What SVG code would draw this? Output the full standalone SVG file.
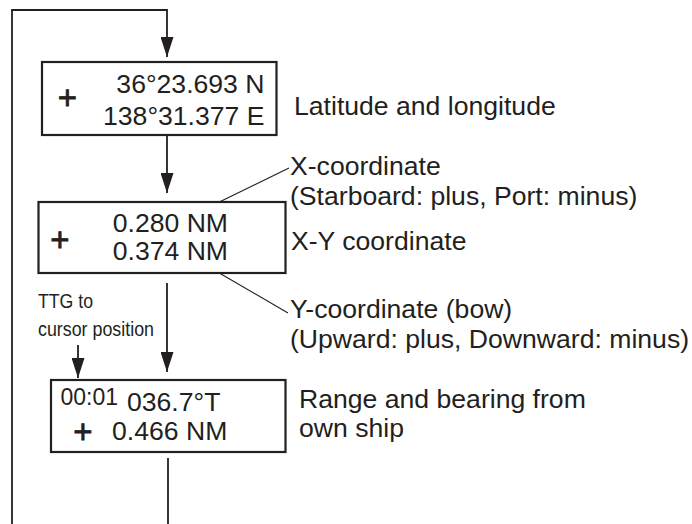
<svg xmlns="http://www.w3.org/2000/svg" width="692" height="524" viewBox="0 0 692 524">
<style>
  .box { fill: #fff; stroke: #231f20; stroke-width: 2.2; }
  .ln { fill: none; stroke: #231f20; stroke-width: 1.8; }
  .lead { fill: none; stroke: #231f20; stroke-width: 1.1; }
  .t { font-family: "Liberation Sans", Arial, sans-serif; font-size: 26.6px; fill: #231f20; }
  .plus { font-family: "Liberation Sans", Arial, sans-serif; font-size: 33px; fill: #231f20; stroke: #231f20; stroke-width: 0.8; text-anchor: middle; }
  .small { font-family: "Liberation Sans", Arial, sans-serif; font-size: 21px; fill: #231f20; }
  .end { text-anchor: end; }
</style>
<defs>
  <marker id="arr" markerUnits="userSpaceOnUse" markerWidth="20" markerHeight="13" refX="20" refY="6.5" orient="auto" viewBox="0 0 20 13">
    <path d="M0,0 L20,6.5 L0,13 z" fill="#231f20"/>
  </marker>
</defs>
<g id="connectors">
  <polyline class="ln" points="12,524 12,10 167,10 167,57" marker-end="url(#arr)"/>
  <line class="ln" x1="167" y1="136" x2="167" y2="193" marker-end="url(#arr)"/>
  <line class="ln" x1="167" y1="283" x2="167" y2="372" marker-end="url(#arr)"/>
  <line class="ln" x1="78" y1="345" x2="78" y2="378" marker-end="url(#arr)"/>
  <line class="ln" x1="168" y1="458" x2="168" y2="524"/>
  <line class="lead" x1="207" y1="208" x2="289" y2="168"/>
  <line class="lead" x1="209" y1="267" x2="288" y2="313"/>
</g>
<g id="box-latlon">
  <rect class="box" x="42" y="62" width="234.5" height="73"/>
  <text class="plus" x="67.3" y="108.5">+</text>
  <text class="t end" x="264.5" y="93">36°23.693 N</text>
  <text class="t end" x="264.5" y="124.5">138°31.377 E</text>
</g>
<g id="box-xy">
  <rect class="box" x="38.5" y="202" width="247" height="71"/>
  <text class="plus" x="60" y="250.5">+</text>
  <text class="t end" x="228" y="231.5">0.280 NM</text>
  <text class="t end" x="228" y="260">0.374 NM</text>
</g>
<g id="box-range">
  <rect class="box" x="51" y="380" width="234.5" height="72"/>
  <text class="t" x="60.5" y="405" style="font-size:23px">00:01</text>
  <text class="t" x="127" y="411">036.7°T</text>
  <text class="plus" x="83" y="442.5">+</text>
  <text class="t" x="112" y="440">0.466 NM</text>
</g>
<g id="label-ttg">
  <text class="small" x="38" y="307.5" textLength="55" lengthAdjust="spacingAndGlyphs">TTG to</text>
  <text class="small" x="38" y="335.5" textLength="116" lengthAdjust="spacingAndGlyphs">cursor position</text>
</g>
<g id="label-latlon">
  <text class="t" x="294" y="115">Latitude and longitude</text>
</g>
<g id="label-x">
  <text class="t" x="290" y="175">X-coordinate</text>
  <text class="t" x="290" y="205">(Starboard: plus, Port: minus)</text>
</g>
<g id="label-xy">
  <text class="t" x="291" y="250">X-Y coordinate</text>
</g>
<g id="label-y">
  <text class="t" x="290" y="318">Y-coordinate (bow)</text>
  <text class="t" x="290" y="348">(Upward: plus, Downward: minus)</text>
</g>
<g id="label-range">
  <text class="t" x="299" y="408">Range and bearing from</text>
  <text class="t" x="299" y="437">own ship</text>
</g>
</svg>
